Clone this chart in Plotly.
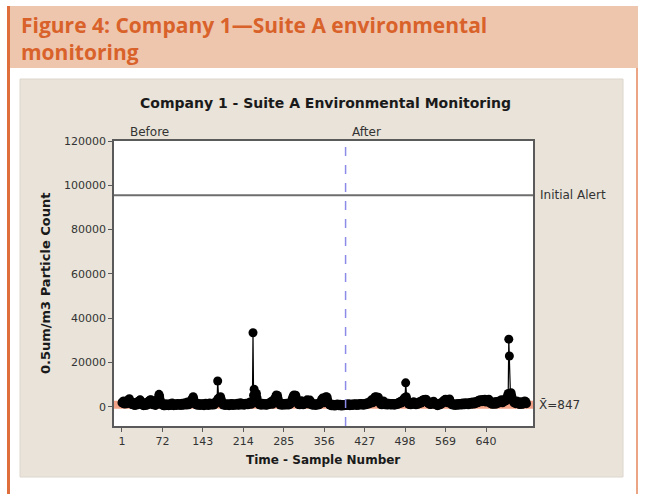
import plotly.graph_objects as go

# ---- data (particle counts per sample) ----
before_counts = [
    1800, 2200, 1500, 2600, 1900, 1200, 2400, 1700, 2100, 1400,
    2800, 1900, 3200, 3600, 2500, 1600, 2200, 1100, 1800, 900,
    1500, 700, 1300, 600, 1900, 1200, 800, 1600, 2400, 1400,
    2100, 2900, 3100, 2600, 1800, 1000, 700, 1300, 500, 900,
    1200, 600, 1800, 1100, 700, 1500, 2300, 1600, 2700, 3000,
    2500, 3200, 2100, 1400, 900, 1700, 2000, 1200, 800, 600,
    1100, 1900, 2600, 3100, 4200, 5600, 4800, 3300, 2200, 1500,
    1000, 700, 1200, 500, 900, 400, 800, 1300, 600, 1000,
    700, 1100, 500, 900, 1400, 800, 600, 1200, 1700, 1000,
    800, 500, 1100, 700, 1300, 900, 600, 1000, 1500, 800,
    1200, 700, 900, 1400, 600, 1100, 1600, 900, 700, 1300,
    1000, 1800, 1200, 800, 1500, 2100, 1400, 900, 1200, 1700,
    2200, 1600, 2800, 3400, 4000, 4500, 3600, 2500, 1800, 1200,
    900, 1300, 700, 1100, 1500, 800, 1200, 600, 1000, 1400,
    700, 1100, 900, 1300, 500, 800, 1200, 1600, 1000, 700,
    1400, 900, 600, 1100, 1700, 1200, 800, 1300, 900, 1500,
    1100, 800, 1400, 1900, 1300, 2000, 2400, 3000, 11600, 3800,
    2600, 3200, 3900, 4500, 3600, 2400, 1500, 1100, 800, 1300,
    900, 600, 1000, 1400, 700, 1100, 800, 1200, 500, 900,
    1300, 700, 1000, 1500, 800, 600, 1100, 900, 1400, 700,
    1000, 1200, 800, 1600, 1100, 700, 900, 1300, 1800, 1200,
    800, 1100, 1500, 900, 1300, 700, 1200, 1000, 1600, 1100,
    1400, 900, 1200, 1800, 1300, 2100, 1500, 1100, 1900, 2500,
    33400, 5200, 7900, 4600, 3800, 5200, 6000, 4100, 2700, 1800,
    1300, 900, 1500, 1100, 700, 1200, 1600, 1000, 800, 1300,
    900, 1400, 1100, 700, 1200, 800, 1500, 1000, 1300, 1700,
    1200, 1900, 2400, 1600, 1100, 2200, 2800, 3400, 2600, 3800,
    4600, 5300, 4900, 5100, 3700, 2500, 1600, 1100, 800, 1300,
    900, 1200, 700, 1100, 1500, 900, 1300, 800, 1200, 1600,
    1000, 1400, 800, 1200, 1700, 1100, 1500, 2100, 2900, 3600,
    4300, 5000, 5300, 4700, 3900, 5200, 4100, 2800, 1900, 1300,
    1000, 1500, 900, 1300, 2000, 2700, 1800, 1200, 900, 1400,
    1100, 1700, 2300, 1500, 2600, 3100, 2400, 1600, 1200, 2200,
    3000, 2300, 1500, 1000, 700, 1200, 900, 1400, 800, 1100,
    600, 1000, 1300, 800, 1100, 1500, 900, 1200, 1700, 2200,
    2800, 3300, 3900, 2700, 1800, 2500, 3600, 4100, 4500, 3800,
    4400, 3200, 2200, 1500, 1000, 700, 1200, 900, 400, 800,
    1100, 600, 900, 300, 700, 1000, 500, 800, 1200, 600,
    900, 400, 700, 1100, 500, 800, 300, 600, 1000, 700,
    500, 900, 600,
]

after_counts = [
    800, 1100, 600, 900, 1300, 700, 1000, 500, 800, 1200,
    900, 600, 1100, 700, 1000, 1400, 800, 1200, 900, 600,
    1000, 1300, 700, 1100, 800, 1200, 1500, 900, 1300, 1000,
    700, 1100, 1400, 800, 1200, 1600, 1000, 1300, 1800, 1200,
    1500, 2100, 1400, 1900, 2500, 3100, 2400, 1800, 2600, 3300,
    3900, 4400, 3600, 4500, 3800, 2900, 3500, 4300, 3200, 2300,
    1600, 1100, 1500, 900, 1300, 1900, 2600, 1800, 1200, 900,
    1300, 1700, 1100, 800, 1200, 1600, 1000, 1400, 900, 1200,
    800, 1100, 1500, 1000, 1300, 700, 1100, 1400, 900, 1200,
    1600, 1100, 1500, 2000, 1400, 1800, 2400, 1700, 2300, 2900,
    2200, 3000, 3600, 2800, 4200, 10800, 4500, 3300, 2400, 1700,
    1200, 1600, 1000, 1400, 900, 1300, 1800, 1200, 1600, 2200,
    1500, 1100, 1400, 900, 1300, 1700, 1100, 1500, 2100, 1400,
    1800, 2400, 1700, 2300, 2900, 2200, 2800, 3300, 2600, 3200,
    3400, 2700, 3100, 2400, 1700, 2200, 1500, 1100, 1600, 1000,
    1400, 2000, 1300, 1800, 2500, 1700, 1200, 1600, 1000, 700,
    1100, 500, 900, 1300, 800, 1200, 1700, 1100, 1500, 2100,
    1600, 2300, 2900, 2400, 3100, 3400, 2800, 3300, 2500, 1800,
    2600, 3200, 3500, 2700, 1900, 1300, 900, 1400, 1000, 700,
    1100, 800, 1200, 600, 1000, 1400, 900, 1300, 700, 1100,
    1500, 1000, 1300, 800, 1200, 1700, 1100, 1500, 900, 1300,
    1800, 1200, 1600, 1000, 1400, 900, 1300, 1900, 1300, 1700,
    1100, 1500, 2100, 1400, 1800, 1200, 1600, 2200, 1500, 1900,
    2500, 1800, 2300, 2900, 2100, 2700, 3200, 2500, 3000, 2300,
    2800, 3300, 2600, 3100, 3400, 2700, 2100, 2800, 3300, 2500,
    3000, 3400, 2600, 1900, 1400, 2000, 1500, 1100, 1700, 1200,
    1600, 2200, 1500, 1100, 1800, 2400, 1700, 2300, 1600, 2100,
    2700, 2000, 2600, 3100, 2400, 1800, 2500, 3000, 2300, 2800,
    3400, 2700, 3600, 4200, 5100, 6000, 30500, 22900, 5800, 4700,
    6300, 5100, 4000, 3100, 2400, 1800, 2500, 1900, 1400, 2000,
    2600, 1800, 1300, 1900, 1400, 1000, 1600, 2200, 1500, 1100,
    1700, 1200, 2100, 1500, 2600, 1800, 2300, 1400,
]

MEAN_VALUE = 847
ALERT_LEVEL = 95500
x_tick_vals = [1, 72, 143, 214, 285, 356, 427, 498, 569, 640]
y_tick_vals = [0, 20000, 40000, 60000, 80000, 100000, 120000]

counts = before_counts + after_counts
samples = list(range(1, len(counts) + 1))
split_at = len(before_counts) + 0.5

# ---- layout geometry (pixels) ----
W, H = 650, 494
L, R, T, B = 114, 117, 141, 68
PW, PH = W - L - R, H - T - B


def px(x):
    return (x - L) / PW


def py(y):
    return (H - B - y) / PH


FONT = "DejaVu Sans, Verdana, sans-serif"
HEAD_FONT = dict(family="Open Sans, sans-serif", size=21, color="#D9622B")

fig = go.Figure()

# mean line (salmon) behind the data
fig.add_trace(go.Scatter(
    x=[-13, 722.5], y=[MEAN_VALUE, MEAN_VALUE], mode="lines",
    line=dict(color="#F2A286", width=8), hoverinfo="skip", showlegend=False))

fig.add_trace(go.Scatter(
    x=samples, y=counts, mode="lines+markers",
    line=dict(color="black", width=1.2),
    marker=dict(color="black", size=9),
    showlegend=False))

shapes = [
    dict(type="rect", xref="paper", yref="paper", x0=px(20), x1=px(623), y0=py(477), y1=py(79),
         fillcolor="#E9E3D9", line=dict(color="#DCD6CC", width=1), layer="below"),
    dict(type="rect", xref="paper", yref="paper", x0=0, x1=1, y0=0, y1=1,
         fillcolor="white", line=dict(width=0), layer="below"),
    dict(type="rect", xref="paper", yref="paper", x0=px(9), x1=px(638), y0=py(68), y1=py(6),
         fillcolor="#EEC6AE", line=dict(width=0), layer="below"),
    dict(type="rect", xref="paper", yref="paper", x0=px(7), x1=px(10), y0=py(494), y1=py(6),
         fillcolor="#DE6F3C", line=dict(width=0), layer="below"),
    dict(type="rect", xref="paper", yref="paper", x0=px(636), x1=px(638), y0=py(494), y1=py(68),
         fillcolor="#EBA585", line=dict(width=0), layer="below"),
    dict(type="line", xref="paper", yref="y", x0=0, x1=1, y0=ALERT_LEVEL, y1=ALERT_LEVEL,
         line=dict(color="#6E6E6E", width=2)),
    dict(type="line", xref="x", yref="paper", x0=split_at, x1=split_at, y0=0, y1=1,
         line=dict(color="#8C8CE8", width=1.5, dash="dash")),
]

annotations = [
    dict(text="<b>Figure 4: Company 1\u2014Suite A environmental<br>monitoring</b>",
         xref="paper", yref="paper", x=px(19), y=py(38), xanchor="left", yanchor="middle",
         align="left", showarrow=False, font=HEAD_FONT),
    dict(text="<b>Company 1 - Suite A Environmental Monitoring</b>",
         xref="paper", yref="paper", x=px(325), y=py(103), xanchor="center", yanchor="middle",
         showarrow=False, font=dict(family=FONT, size=14, color="#1a1a1a")),
    dict(text="Before", xref="x", yref="paper", x=1, y=1, xanchor="left", yanchor="bottom",
         xshift=6, yshift=0, showarrow=False, font=dict(family=FONT, size=12, color="#333")),
    dict(text="After", xref="x", yref="paper", x=split_at, y=1, xanchor="left", yanchor="bottom",
         xshift=4, yshift=0, showarrow=False, font=dict(family=FONT, size=12, color="#333")),
    dict(text="Initial Alert", xref="paper", yref="y", x=1, y=ALERT_LEVEL, xanchor="left",
         yanchor="middle", xshift=5, showarrow=False, font=dict(family=FONT, size=12, color="#333")),
    dict(text="X\u0304=" + str(MEAN_VALUE), xref="paper", yref="y", x=1, y=MEAN_VALUE, xanchor="left",
         yanchor="middle", xshift=4, showarrow=False, font=dict(family=FONT, size=12, color="#333")),
    dict(text="<b>Time - Sample Number</b>", xref="paper", yref="paper", x=px(323), y=py(460),
         xanchor="center", yanchor="middle", showarrow=False,
         font=dict(family=FONT, size=12, color="#1a1a1a")),
    dict(text="<b>0.5um/m3 Particle Count</b>", xref="paper", yref="paper", x=px(45), y=py(284),
         xanchor="center", yanchor="middle", textangle=-90, showarrow=False,
         font=dict(family=FONT, size=13, color="#1a1a1a")),
]

fig.update_layout(
    width=W, height=H,
    margin=dict(l=L, r=R, t=T, b=B, pad=0),
    paper_bgcolor="white", plot_bgcolor="rgba(0,0,0,0)",
    shapes=shapes, annotations=annotations, showlegend=False,
    xaxis=dict(range=[-13, 722.5], tickvals=x_tick_vals, showgrid=False, zeroline=False,
               showline=True, mirror=True, linecolor="#5a5a5a", linewidth=1.5,
               ticks="outside", ticklen=4, tickcolor="#5a5a5a",
               tickfont=dict(family=FONT, size=11, color="#333")),
    yaxis=dict(range=[-8700, 120000], tickvals=y_tick_vals, tickformat="d", showgrid=False,
               zeroline=False, showline=True, mirror=True, linecolor="#5a5a5a", linewidth=1.5,
               ticks="outside", ticklen=4, tickcolor="#5a5a5a",
               tickfont=dict(family=FONT, size=11, color="#333")),
)

fig.write_html("out.html", config={"displayModeBar": False},
               post_script="document.body.style.margin='0px';")
